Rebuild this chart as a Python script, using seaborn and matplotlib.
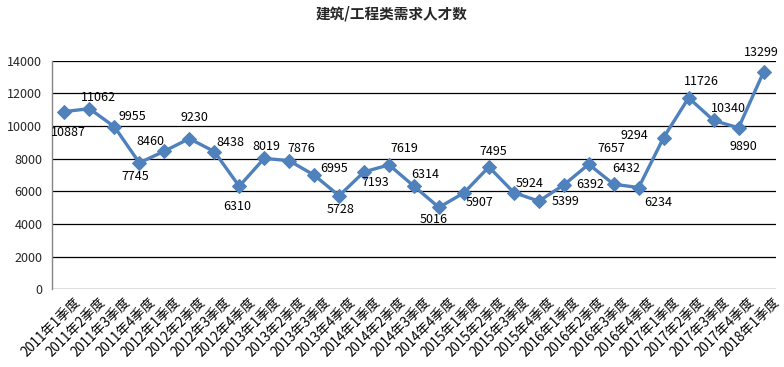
import matplotlib
matplotlib.use("Agg")
import matplotlib.pyplot as plt
import matplotlib.transforms as mtransforms
import seaborn as sns
import pandas as pd

sns.set_theme(style="white")
plt.rcParams['font.family'] = ['Noto Sans CJK SC', 'DejaVu Sans']

title = "建筑/工程类需求人才数"
quarters = [
    "2011年1季度", "2011年2季度", "2011年3季度", "2011年4季度",
    "2012年1季度", "2012年2季度", "2012年3季度", "2012年4季度",
    "2013年1季度", "2013年2季度", "2013年3季度", "2013年4季度",
    "2014年1季度", "2014年2季度", "2014年3季度", "2014年4季度",
    "2015年1季度", "2015年2季度", "2015年3季度", "2015年4季度",
    "2016年1季度", "2016年2季度", "2016年3季度", "2016年4季度",
    "2017年1季度", "2017年2季度", "2017年3季度", "2017年4季度",
    "2018年1季度",
]
demand = [
    10887, 11062, 9955, 7745,
    8460, 9230, 8438, 6310,
    8019, 7876, 6995, 5728,
    7193, 7619, 6314, 5016,
    5907, 7495, 5924, 5399,
    6392, 7657, 6432, 6234,
    9294, 11726, 10340, 9890,
    13299,
]
yticks = [0, 2000, 4000, 6000, 8000, 10000, 12000, 14000]

# label offsets in pixels (dx, dy up positive)
label_offsets = [
    (4, -21), (9, 11), (18, 10), (-4, -14),
    (-14, 10), (5, 21), (16, 9), (-2, -20),
    (2, 12), (12, 12), (20, 7), (1, -14),
    (11, -11), (15, 16), (11, 12), (-5, -12),
    (16, -10), (4, 15), (16, 9), (27, 0),
    (26, 0), (23, 16), (13, 16), (20, -15),
    (-29, 2), (13, 16), (15, 12), (5, -19),
    (-2, 20),
]

df = pd.DataFrame({"quarter": quarters, "demand": demand})

fig = plt.figure(figsize=(7.84, 3.67), dpi=100)
ax = fig.add_axes([0.0663, 0.2117, 0.9235, 0.6229])

sns.lineplot(data=df, x="quarter", y="demand", ax=ax, color="#4F81BD",
             linewidth=2.4, marker="D", markersize=7.5, markeredgecolor="#4F81BD",
             sort=False)

for i, (v, (dx, dy)) in enumerate(zip(demand, label_offsets)):
    ax.annotate(str(v), (i, v), xytext=(dx, dy), textcoords="offset pixels",
                ha="center", va="center", fontsize=9, color="black")

ax.set_xlim(-0.5, len(quarters) - 0.5)
ax.set_ylim(0, 14000)
ax.set_yticks(yticks)
ax.set_yticklabels([str(t) for t in yticks], fontsize=9)
ax.yaxis.grid(True, color="black", linewidth=0.9)
ax.set_axisbelow(True)
ax.set_xlabel("")
ax.set_ylabel("")
ax.tick_params(axis="y", length=0, pad=7)
ax.tick_params(axis="x", length=0, pad=4)

for s in ["top", "right", "bottom"]:
    ax.spines[s].set_visible(False)
ax.spines["left"].set_color("#868686")
ax.spines["left"].set_linewidth(1)

shift = mtransforms.ScaledTranslation(9 / 100, 0, fig.dpi_scale_trans)
ax.set_xticks(range(len(quarters)))
ax.set_xticklabels(quarters, rotation=45, ha="right", rotation_mode="anchor",
                   fontsize=9.6, color="black")
for lbl in ax.get_xticklabels():
    lbl.set_transform(lbl.get_transform() + shift)

fig.text(0.499, 0.962, title, ha="center", va="center", fontsize=10.5,
         fontweight="bold")

fig.savefig("out.png", dpi=100)
